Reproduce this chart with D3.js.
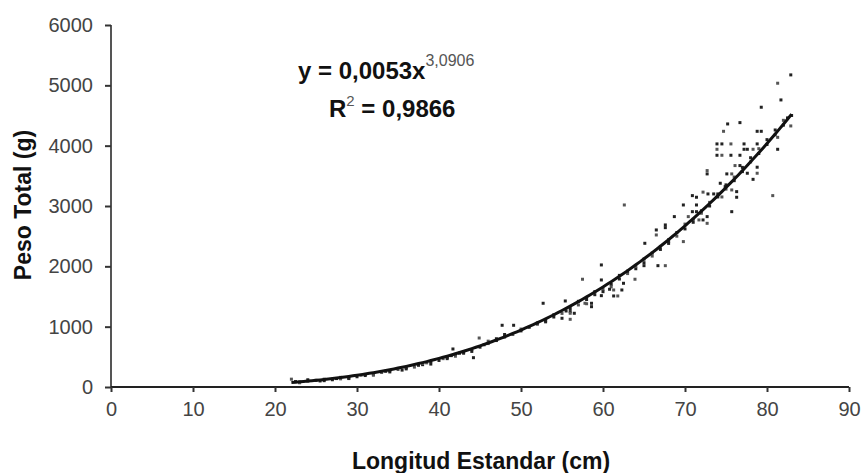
<!DOCTYPE html>
<html>
<head>
<meta charset="utf-8">
<script src="https://cdn.jsdelivr.net/npm/d3@7"></script>
<style>
  html, body { margin: 0; padding: 0; background: #fff; }
  svg { display: block; }
  text { font-family: "Liberation Sans", Arial, sans-serif; }
</style>
</head>
<body>
<svg id="chart" width="861" height="473"></svg>
<script>
// ---- data ----
const xTicks = [0, 10, 20, 30, 40, 50, 60, 70, 80, 90];
const yTicks = [0, 1000, 2000, 3000, 4000, 5000, 6000];
const xTitle = "Longitud Estandar (cm)";
const yTitle = "Peso Total (g)";
const fitA = 0.0053;      // coefficient shown in the equation
const fitB = 3.0906;      // exponent shown in the equation
const fitRange = [22, 83];
const eqMain = "y = 0,0053x";
const eqExp = "3,0906";
const eqR2 = "0,9866";

// points along the main band
const lengthBand = [22,22.5,23,24,25,25.5,26,27,27.5,28,29,30,30.5,31,32,33,33.5,34,35,35.5,36,37,37.5,38,38.5,39,40,40.5,41,41.5,42,42.5,43,44,45,45.5,46,47,48,49,50,51,52,53,54,55,55.5,56,57,58,59,60,61,62,63,64,65,66,67,68,69,70,71,72,73,74,75,76,77,78,79,80,81,82,83,
  23,24,26,28,29,31,32,34,36,38,39,41,42,43,44,46,47,48,50,52,53,54,56,57,58,59,60,61,62,63,64,65,66,67,68,69,70,71,72,73,74,75,76,77,78,79,80,81,82,82.5];
const weightBand = [130,90,80,95,110,100,130,120,140,135,150,170,195,190,210,240,260,250,290,280,320,330,360,370,400,420,440,470,490,520,540,560,580,620,660,700,720,770,830,870,930,990,1040,1100,1160,1220,1260,1300,1360,1450,1530,1620,1700,1790,1880,1960,2060,2170,2280,2380,2500,2620,2730,2880,3000,3150,3280,3420,3570,3730,3870,4020,4180,4340,4500,
  70,120,105,160,140,205,195,270,300,390,380,470,510,560,590,760,800,870,960,1060,1080,1200,1250,1420,1380,1580,1580,1660,1850,1920,2000,2120,2220,2330,2440,2560,2700,2780,2920,3060,3200,3350,3480,3640,3800,3950,4100,4260,4420,4460];
// scattered points
const lengthScatter = [82.9,81.3,81.7,79.3,82.9,75.2,76.7,74.7,78.8,79.3,81.3,73.9,74.5,75.6,77.2,78.8,73.9,77.2,77.6,78.3,81.3,73.9,74.5,75.6,76.7,76.1,76.7,78.8,78.8,77.6,78.3,72.7,72.7,75.1,75.7,74.3,74.9,75.7,76.3,76.3,80.7,70.9,71.4,72.2,72.8,73.5,74.5,69.8,71.4,62.6,70.9,71.4,71.7,72.2,72.7,72.7,75.7,68.7,70.4,67.6,66.5,66.5,65.1,68.0,69.8,67.6,66.7,67.6,65.0,59.8,57.5,59.8,60.8,61.3,62.3,61.3,61.8,59.8,62.5,63.9,52.7,55.4,56.0,56.5,55.0,56.0,58.6,58.6,57.8,47.7,49.1,44.9,44.2,41.7];
const weightScatter = [5173,5035,4758,4637,4327,4360,4382,4238,4238,4238,4138,4029,4029,4029,4029,4029,3940,3940,3940,3940,3940,3841,3841,3841,3841,3670,3670,3643,3543,3543,3442,3587,3532,3532,3532,3377,3321,3266,3238,3145,3172,3172,3145,3230,3200,3200,3150,3017,3017,3017,2906,2906,2769,2769,2824,2713,2906,2824,2824,2641,2603,2520,2382,2410,2410,2686,2011,2011,2011,2023,1786,1774,1620,1608,1608,1509,1509,1514,1719,1786,1388,1426,1222,1222,1139,1122,1331,1388,1388,1023,1023,812,486,630];

// ---- layout ----
const svg = d3.select("#chart");
const x = d3.scaleLinear().domain([0, 90]).range([111, 849]);
const y = d3.scaleLinear().domain([0, 6000]).range([387, 25]);

// y axis
const yAxis = d3.axisLeft(y).tickValues(yTicks).tickSize(6).tickPadding(12).tickFormat(d3.format("d"));
const gy = svg.append("g").attr("transform", "translate(111,0)").call(yAxis);
gy.select(".domain").attr("stroke", "#555").attr("stroke-width", 2).attr("d", `M0,${y(6000)}V${y(0)}`);
gy.selectAll(".tick line").attr("stroke", "#333").attr("stroke-width", 2);
gy.selectAll(".tick text").attr("fill", "#444").style("font-size", "20px")
  .style("font-family", '"Liberation Sans", Arial, sans-serif');

// x axis
const xAxis = d3.axisBottom(x).tickValues(xTicks).tickSize(5).tickPadding(10).tickFormat(d3.format("d"));
const gx = svg.append("g").attr("transform", "translate(0,387)").call(xAxis);
gx.select(".domain").attr("stroke", "#222").attr("stroke-width", 2).attr("d", `M${x(0)},0H${x(90)}`);
gx.selectAll(".tick line").attr("stroke", "#333").attr("stroke-width", 2);
gx.selectAll(".tick text").attr("fill", "#444").style("font-size", "20px")
  .style("font-family", '"Liberation Sans", Arial, sans-serif');

// points
const pts = lengthBand.map((v, i) => [v, weightBand[i]])
  .concat(lengthScatter.map((v, i) => [v, weightScatter[i]]));
svg.append("g").selectAll("rect").data(pts).join("rect")
  .attr("x", d => x(d[0]) - 1.5).attr("y", d => y(d[1]) - 1.5)
  .attr("width", 3).attr("height", 3)
  .attr("fill", (d, i) => i % 3 === 0 ? "#555" : "#222");

// trend line from the displayed equation
const fitX = d3.range(fitRange[0], fitRange[1] + 0.001, 0.5);
const line = d3.line().x(d => x(d)).y(d => y(fitA * Math.pow(d, fitB)));
svg.append("path").datum(fitX).attr("d", line)
  .attr("fill", "none").attr("stroke", "#111").attr("stroke-width", 3);

// equation
const eq = svg.append("text").attr("x", 298).attr("y", 79)
  .attr("fill", "#111").style("font-weight", "bold").style("font-size", "24px");
eq.append("tspan").text(eqMain);
eq.append("tspan").attr("dy", -13).attr("fill", "#555").style("font-size", "16px").style("font-weight", "normal").text(eqExp);

const r2 = svg.append("text").attr("x", 329).attr("y", 117)
  .attr("fill", "#111").style("font-weight", "bold").style("font-size", "24px");
r2.append("tspan").text("R");
r2.append("tspan").attr("dy", -11).attr("fill", "#555").style("font-size", "15px").style("font-weight", "normal").text("2");
r2.append("tspan").attr("dy", 11).text(" = " + eqR2);

// axis titles
svg.append("text").attr("x", 481).attr("y", 469).attr("text-anchor", "middle")
  .attr("fill", "#111").style("font-weight", "bold").style("font-size", "23px").text(xTitle);
svg.append("text").attr("transform", "translate(31,205) rotate(-90)").attr("text-anchor", "middle")
  .attr("fill", "#111").style("font-weight", "bold").style("font-size", "23px").text(yTitle);
</script>
</body>
</html>
